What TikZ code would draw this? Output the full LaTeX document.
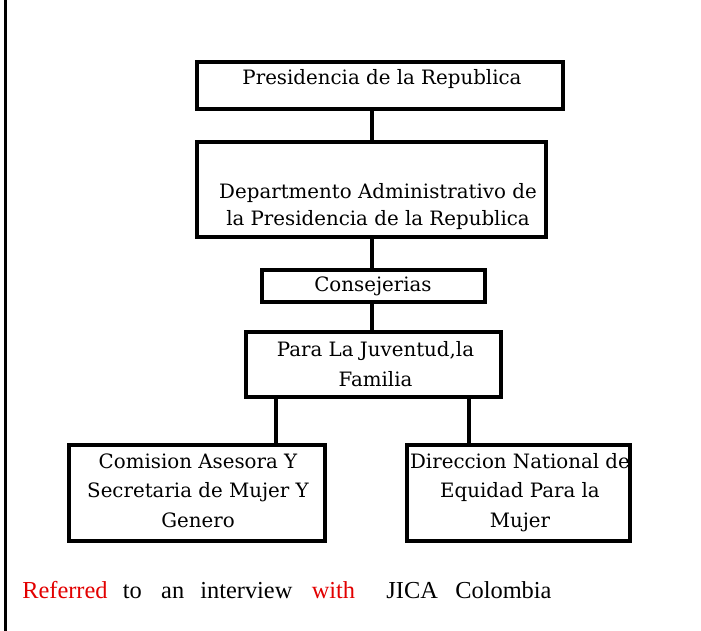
\documentclass[tikz,border=0pt]{standalone}
\usepackage{fontspec}
\setmainfont{Liberation Serif}
\newfontfamily\boxfont{DejaVu Serif}
\definecolor{refred}{RGB}{226,0,0}
\begin{document}
\begin{tikzpicture}[x=0.75pt,y=-0.75pt,
  orgbox/.style={draw, line width=2.5pt, inner sep=0pt},
  orgline/.style={line width=2.5pt},
  orgtext/.style={inner sep=0pt, align=center, font=\boxfont\fontsize{14.85}{#1}\selectfont},
  orgtext/.default={20}]
\useasboundingbox (0,0) rectangle (701,631);
% left frame line
\draw[line width=2.5pt] (5.5,0) -- (5.5,631);
% boxes
\node[orgbox, minimum width=274.5pt, minimum height=35.25pt] (pres) at (380,85.5) {};
\node[orgbox, minimum width=261.75pt, minimum height=71.25pt] (dept) at (371.5,189.5) {};
\node[orgbox, minimum width=167.25pt, minimum height=24pt] (cons) at (373.5,286) {};
\node[orgbox, minimum width=191.25pt, minimum height=48.75pt] (para) at (373.5,364.5) {};
\node[orgbox, minimum width=192pt, minimum height=72pt] (com) at (197,493) {};
\node[orgbox, minimum width=167.25pt, minimum height=72pt] (dir) at (518.5,493) {};
% texts
\node[orgtext, anchor=base] (tpres) at (382,84.5) {Presidencia de la Republica};
\node[orgtext=20, anchor=north] (tdept) at (378,179.6) {\strut Departmento Administrativo de\\la Presidencia de la Republica\strut};
\node[orgtext, anchor=base] (tcons) at (373,291.5) {Consejerias};
\node[orgtext=22, anchor=north] (tpara) at (375.5,336.2) {\strut Para La Juventud,la\\Familia\strut};
\node[orgtext=21.9, anchor=north] (tcom) at (198,447.9) {\strut Comision Asesora Y\\Secretaria de Mujer Y\\Genero\strut};
\node[orgtext=21.9, anchor=north] (tdir) at (520,447.9) {\strut Direccion National de\\Equidad Para la\\Mujer\strut};
% connectors
\coordinate (trunk) at (372,0);
\coordinate (lbr) at (276,0);
\coordinate (rbr) at (469,0);
\draw[orgline] (pres.south -| trunk) -- (dept.north -| trunk);
\draw[orgline] (dept.south -| trunk) -- (cons.north -| trunk);
\draw[orgline] (cons.south -| trunk) -- (para.north -| trunk);
\draw[orgline] (para.south -| lbr) -- (com.north -| lbr);
\draw[orgline] (para.south -| rbr) -- (dir.north -| rbr);
% note
\node[anchor=base west, inner sep=0pt, font=\fontsize{18.3}{22}\selectfont] (note) at (22,598.5)
  {\textcolor{refred}{Referred}\hspace{11.5pt}to\hspace{14.5pt}an\hspace{12pt}interview\hspace{14.5pt}\textcolor{refred}{with}\hspace{23.5pt}JICA\hspace{13pt}Colombia};
\end{tikzpicture}
\end{document}
